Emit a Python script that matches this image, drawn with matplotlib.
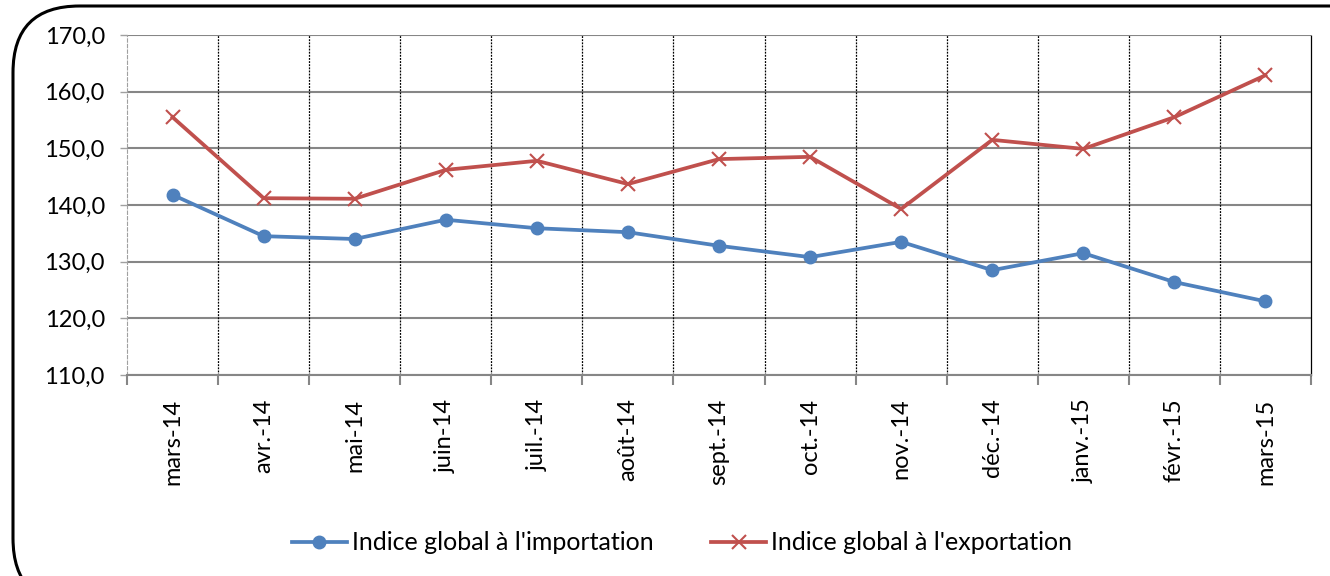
import matplotlib
matplotlib.use("Agg")
import matplotlib.pyplot as plt
from matplotlib.patches import FancyBboxPatch
import numpy as np

categories = ["mars-14", "avr.-14", "mai-14", "juin-14", "juil.-14", "août-14",
              "sept.-14", "oct.-14", "nov.-14", "déc.-14", "janv.-15", "févr.-15", "mars-15"]
importation = [141.8, 134.5, 134.0, 137.4, 135.9, 135.2, 132.8, 130.8, 133.5, 128.5, 131.5, 126.4, 123.0]
exportation = [155.5, 141.2, 141.1, 146.2, 147.8, 143.7, 148.1, 148.5, 139.3, 151.5, 149.9, 155.5, 162.9]
yticks = [110, 120, 130, 140, 150, 160, 170]
labels = ["Indice global à l'importation", "Indice global à l'exportation"]

plt.rcParams['font.family'] = ['Lato', 'DejaVu Sans']

fig = plt.figure(figsize=(13.3, 5.76), dpi=100)
ax = fig.add_axes([127/1330, 1-375/576, (1311-127)/1330, 340/576])

x = np.arange(len(categories))
ax.plot(x, importation, color='#4F81BD', lw=2.7, marker='o', ms=9, label=labels[0], zorder=4)
ax.plot(x, exportation, color='#C0504D', lw=2.7, marker='x', ms=9.5, mew=1.5, label=labels[1], zorder=4)

ax.set_xlim(-0.5, len(categories) - 0.5)
ax.set_ylim(110, 170)
ax.set_yticks(yticks)
ax.set_yticklabels([f"{v:.1f}".replace('.', ',') for v in yticks], fontsize=17)
ax.yaxis.grid(True, color='#868686', lw=1.5)
ax.set_axisbelow(True)

ax.set_xticks(x)
ax.set_xticklabels(categories, rotation=90, fontsize=17, va='top')
ax.set_xticks(np.arange(-0.5, len(categories), 1), minor=True)
ax.tick_params(axis='x', which='major', length=0, pad=17)
ax.tick_params(axis='x', which='minor', length=7, color='#868686', width=1.5)
ax.tick_params(axis='y', length=5, color='#A0A0A0', width=1, pad=11)
for xv in np.arange(0.5, len(categories) - 0.5, 1):
    ax.axvline(xv, color='black', lw=0.9, ls=(0, (1.5, 1)), zorder=2)

ax.spines['top'].set_visible(False)
ax.spines['right'].set_color('black')
ax.spines['right'].set_linestyle((0, (1.5, 1)))
ax.spines['right'].set_linewidth(0.9)
ax.spines['left'].set_color('#A0A0A0')
ax.spines['left'].set_linestyle((0, (3, 2)))
ax.spines['left'].set_linewidth(0.8)
ax.spines['bottom'].set_color('#868686')
ax.spines['bottom'].set_linewidth(1.5)

leg = fig.legend(loc='center', bbox_to_anchor=(682/1330, 1-543/576), ncol=2, frameon=False,
                 fontsize=18, handlelength=2.2, handletextpad=0.2, columnspacing=2.3)

frame = FancyBboxPatch((13/1330, -0.05), 1.06, 1.1 - 6/576 - 0.05,
                       boxstyle="round,pad=0,rounding_size=0.05", transform=fig.transFigure,
                       fill=False, ec='black', lw=2.2, mutation_aspect=1330/576)
fig.patches.append(frame)

fig.savefig("out.png", dpi=100)
